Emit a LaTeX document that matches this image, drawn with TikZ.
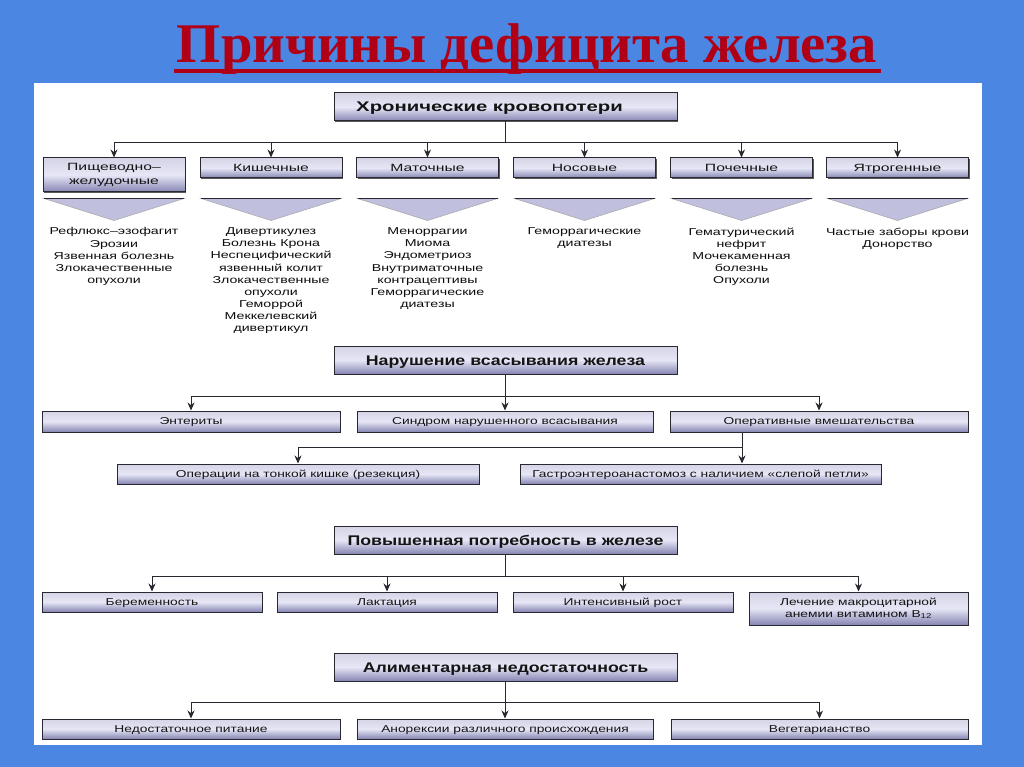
\documentclass[tikz,border=0pt]{standalone}
\usepackage{fontspec}
\usepackage{graphicx}
\setmainfont{Liberation Sans}
\newfontfamily\tfam{Liberation Serif}
\newfontfamily\hfamA[FakeStretch=1.45]{Liberation Sans}
\newfontfamily\hfamB[FakeStretch=1.27]{Liberation Sans}
\newfontfamily\bfamA[FakeStretch=1.5]{Liberation Sans}
\newfontfamily\bfamB[FakeStretch=1.38]{Liberation Sans}
\newfontfamily\lfam[FakeStretch=1.42]{Liberation Sans}
\usetikzlibrary{arrows.meta,shadows,calc}
\definecolor{bgblue}{RGB}{74,134,226}
\definecolor{titlered}{RGB}{176,0,22}
\definecolor{boxtop}{RGB}{212,212,230}
\definecolor{boxmid}{RGB}{230,230,246}
\definecolor{boxbot}{RGB}{132,132,178}
\definecolor{trifill}{RGB}{192,192,222}
\definecolor{linecol}{RGB}{40,40,48}
\tikzset{
  boxbase/.style={draw=linecol, line width=1pt, top color=boxtop, bottom color=boxbot, middle color=boxmid,
    drop shadow={shadow xshift=1.3pt, shadow yshift=-1.3pt, fill=black!65, opacity=1},
    inner sep=0pt, text=black!92},
  hbox/.style={boxbase, minimum width=343pt, minimum height=28pt, text height=10pt, text depth=0pt,
    font=\hfamB\bfseries\fontsize{14}{16}\selectfont},
  hboxw/.style={hbox, font=\hfamA\bfseries\fontsize{14}{16}\selectfont},
  ibox/.style={boxbase, minimum height=20pt, text height=7.3pt, text depth=0.8pt, font=\bfamB\fontsize{10}{12}\selectfont},
  ibox1/.style={ibox, minimum width=142pt, font=\bfamA\fontsize{10.5}{12}\selectfont},
  ibox2/.style={boxbase, align=center},
  lst/.style={anchor=north, inner sep=0pt, align=center, text=black!95, font=\lfam\fontsize{10}{12.15}\selectfont},
  conn/.style={draw=linecol, line width=0.9pt},
  arr/.style={conn, -{Stealth[length=8pt,width=7pt]}},
  tri/.style={fill=trifill, draw=black!35, line width=0.5pt}
}
\begin{document}
\begin{tikzpicture}[x=1pt,y=-1pt]
\useasboundingbox (0,0) rectangle (1024,767);
\fill[bgblue] (0,0) rectangle (1024,767);
\fill[white] (34,83) rectangle (982,745);
% title
\node[anchor=base, inner sep=0pt, text=titlered] (title) at (527,63)
  {\resizebox{700pt}{\height}{\tfam\bfseries\fontsize{56}{60}\selectfont Причины дефицита железа}};
\draw[titlered, line width=4.5pt] (title.base west) ++(-3,8) coordinate (ul1) -- (title.base east |- ul1) coordinate (ul2);
\draw[titlered, line width=4.5pt] (ul1) -- ($(ul2)+(4,0)$);

% section 1
\node[hboxw] (h1) at (505.5,107) {Хронические кровопотери\hspace*{32pt}};
\node[ibox2, minimum width=142pt, minimum height=34pt, font=\bfamA\fontsize{10.5}{14.5}\selectfont] (c1) at (114,175) {Пищеводно–\\желудочные};
\node[ibox1] (c2) at (271,168) {Кишечные};
\node[ibox1] (c3) at (427.5,168) {Маточные};
\node[ibox1] (c4) at (584.5,168) {Носовые};
\node[ibox1] (c5) at (741.5,168) {Почечные};
\node[ibox1] (c6) at (897.5,168) {Ятрогенные};
\coordinate (j1) at (505.5,142);
\draw[conn] (h1.south) -- (j1);
\draw[conn] (j1 -| c1) -- (j1 -| c6);
\foreach \n in {c2,c3,c4,c5,c6} \draw[arr] (j1 -| \n) -- (\n.north);
\draw[arr] (j1 -| c1) -- (c1.north);
\foreach \n in {c1,c2,c3,c4,c5,c6} {
  \path[tri] ($(\n.north)+(-70,41)$) -- ($(\n.north)+(70,41)$) -- ($(\n.north)+(0,63)$) -- cycle;
  \draw[linecol, line width=0.9pt] ($(\n.north)+(-70,41)$) -- ($(\n.north)+(70,41)$);
}
\node[lst] (l1) at ($(c1.north)+(0,70)$) {Рефлюкс–эзофагит\\Эрозии\\Язвенная болезнь\\Злокачественные\\опухоли};
\node[lst] (l2) at ($(c2.north)+(0,70)$) {Дивертикулез\\Болезнь Крона\\Неспецифический\\язвенный колит\\Злокачественные\\опухоли\\Геморрой\\Меккелевский\\дивертикул};
\node[lst] (l3) at ($(c3.north)+(0,70)$) {Меноррагии\\Миома\\Эндометриоз\\Внутриматочные\\контрацептивы\\Геморрагические\\диатезы};
\node[lst] (l4) at ($(c4.north)+(0,70)$) {Геморрагические\\диатезы};
\node[lst] (l5) at ($(c5.north)+(0,70)$) {Гематурический\\нефрит\\Мочекаменная\\болезнь\\Опухоли};
\node[lst] (l6) at ($(c6.north)+(0,70)$) {Частые заборы крови\\Донорство};

% section 2
\node[hbox] (h2) at (505.5,360) {Нарушение всасывания железа};
\node[ibox, minimum width=298pt, minimum height=21pt] (r2a) at (191,421.5) {Энтериты};
\node[ibox, minimum width=296pt, minimum height=21pt] (r2b) at (505,421.5) {Синдром нарушенного всасывания};
\node[ibox, minimum width=298pt, minimum height=21pt] (r2c) at (819,421.5) {Оперативные вмешательства};
\coordinate (j2) at (505,396);
\draw[arr] (h2.south -| r2b) -- (r2b.north);
\draw[conn] (j2 -| r2a) -- (j2 -| r2c);
\draw[arr] (j2 -| r2a) -- (r2a.north);
\draw[arr] (j2 -| r2c) -- (r2c.north);
\node[ibox, minimum width=362pt] (r3a) at (298,474) {Операции на тонкой кишке (резекция)};
\node[ibox, minimum width=361pt] (r3b) at (700.5,474) {Гастроэнтероанастомоз с наличием «слепой петли»};
\coordinate (k) at (742,447);
\draw[arr] (k |- r2c.south) -- (k |- r3b.north);
\draw[conn] (k) -- (k -| r3a);
\draw[arr] (k -| r3a) -- (r3a.north);

% section 3
\node[hbox] (h3) at (505.5,540) {Повышенная потребность в железе};
\node[ibox, minimum width=220pt] (r4a) at (152,602) {Беременность};
\node[ibox, minimum width=220pt] (r4b) at (387,602) {Лактация};
\node[ibox, minimum width=220pt] (r4c) at (623,602) {Интенсивный рост};
\node[ibox2, minimum width=219pt, minimum height=33pt, font=\bfamB\fontsize{10}{11.5}\selectfont] (r4d) at (858.5,608.5) {Лечение макроцитарной\\анемии витамином B\textsubscript{12}};
\coordinate (j3) at (505,576);
\draw[conn] (h3.south -| j3) -- (j3);
\draw[conn] (j3 -| r4a) -- (j3 -| r4d);
\foreach \n in {r4a,r4b,r4c} \draw[arr] (j3 -| \n) -- (\n.north);
\draw[arr] (j3 -| r4d) -- (r4d.north);

% section 4
\node[hbox] (h4) at (505.5,667) {Алиментарная недостаточность};
\node[ibox, minimum width=298pt] (r5a) at (191,729) {Недостаточное питание};
\node[ibox, minimum width=296pt] (r5b) at (505,729) {Анорексии различного происхождения};
\node[ibox, minimum width=297pt] (r5c) at (819.5,729) {Вегетарианство};
\coordinate (j4) at (505,702);
\draw[arr] (h4.south -| r5b) -- (r5b.north);
\draw[conn] (j4 -| r5a) -- (j4 -| r5c);
\draw[arr] (j4 -| r5a) -- (r5a.north);
\draw[arr] (j4 -| r5c) -- (r5c.north);
\end{tikzpicture}
\end{document}
